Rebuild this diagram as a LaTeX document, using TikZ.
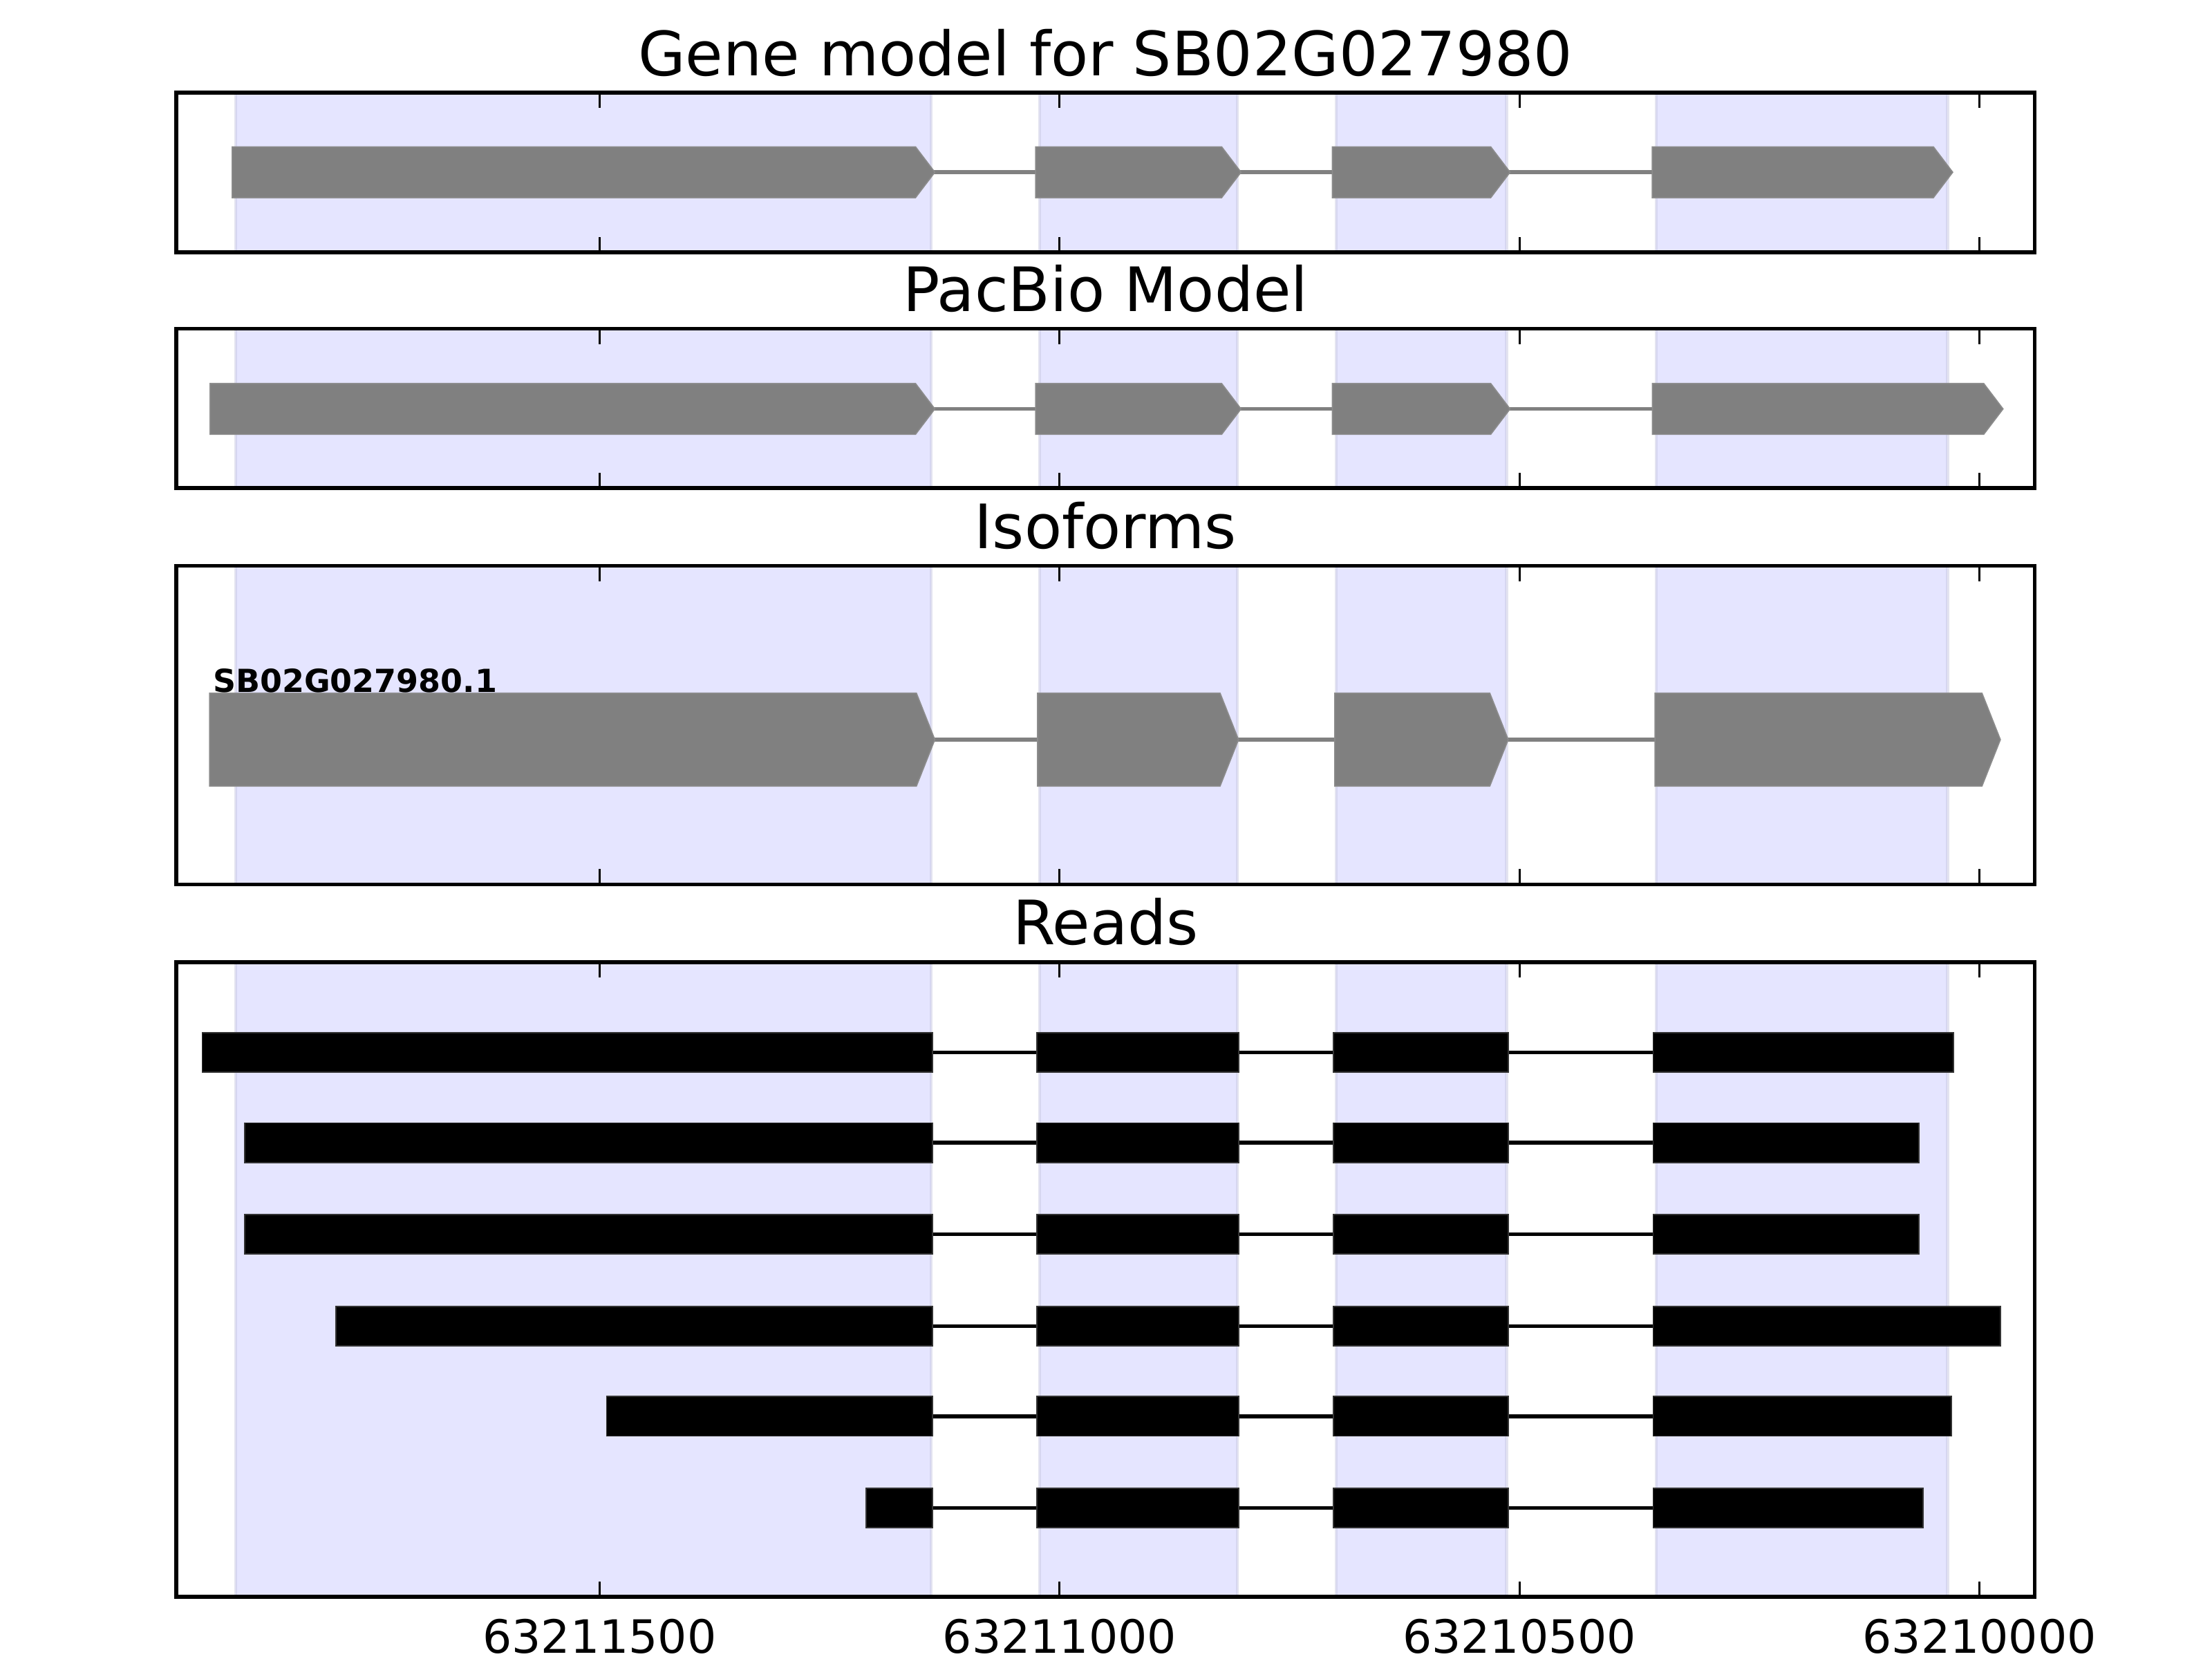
\documentclass[tikz,border=0pt]{standalone}
\usepackage{fontspec}
\setmainfont{DejaVu Sans}

\begin{document}
\begin{tikzpicture}[x=0.3327in, y=1in,
  frame/.style={draw=black, line width=1pt},
  exonspan/.style={fill=blue, fill opacity=0.1, draw={rgb,255:red,200;green,200;blue,225}, draw opacity=0.5, line width=0.8pt},
  genebox/.style={fill=gray, draw=gray!90!white, line width=0.3pt},
  intron/.style={draw=gray, line width=1pt},
  readbar/.style={fill=black, draw=black!80, line width=0.3pt},
  readline/.style={draw=black, line width=1pt},
  tickmark/.style={draw=black, line width=0.6pt},
  paneltitle/.style={font=\fontsize{16}{19}\selectfont, anchor=base, inner sep=0pt},
  ticklabel/.style={font=\fontsize{12}{14}\selectfont, anchor=base, inner sep=0pt},
  isolabel/.style={font=\fontsize{8.3}{10}\selectfont\bfseries, anchor=base west, inner sep=0pt}]
\useasboundingbox (-1.5179,0) rectangle (22.5278,6);

% shaded exon strips in every panel
\foreach \ylo/\yhi in {5.087/5.665, 4.235/4.811, 2.801/3.954, 0.2245/2.520} {
  \foreach \xa/\xb in {1.043/8.604, 9.784/11.934, 13.009/14.859, 16.488/19.652} {
    \path[exonspan] (\xa,\ylo) rectangle (\xb,\yhi);
  }
}

% gene model
\draw[intron] (1.006,5.377) -- (16.442,5.377);
\foreach \xa/\xb in {1.006/8.644, 9.739/11.972, 12.966/14.897, 16.442/19.709} {
  \draw[genebox] (\xa,5.285) -- ({\xb-0.21},5.285) -- (\xb,5.377)
    -- ({\xb-0.21},5.469) -- (\xa,5.469) -- cycle;
}

% pacbio model
\draw[intron] (0.767,4.521) -- (16.445,4.521);
\foreach \xa/\xb in {0.767/8.644, 9.739/11.972, 12.966/14.897, 16.445/20.256} {
  \draw[genebox] (\xa,4.429) -- ({\xb-0.21},4.429) -- (\xb,4.521)
    -- ({\xb-0.21},4.613) -- (\xa,4.613) -- cycle;
}

% isoform
\draw[intron] (0.761,3.325) -- (16.472,3.325);
\foreach \xa/\xb in {0.761/8.644, 9.761/11.945, 12.991/14.877, 16.472/20.227} {
  \draw[genebox] (\xa,3.157) -- ({\xb-0.2},3.157) -- (\xb,3.325)
    -- ({\xb-0.2},3.493) -- (\xa,3.493) -- cycle;
}
\node[isolabel] (isoname) at (0.79,3.497) {SB02G027980.1};

% reads
\foreach \yr/\xs/\xe in {2.194/0.681/19.715, 1.867/1.141/19.340, 1.536/1.141/19.340,
                         1.204/2.132/20.228, 0.878/5.077/19.696, 0.546/7.899/19.387} {
  \draw[readline] (\xs,\yr) -- (\xe,\yr);
  \draw[readbar] (\xs,{\yr-0.0714}) rectangle (8.620,{\yr+0.0714});
  \draw[readbar] (9.755,{\yr-0.0714}) rectangle (11.948,{\yr+0.0714});
  \draw[readbar] (12.975,{\yr-0.0714}) rectangle (14.877,{\yr+0.0714});
  \draw[readbar] (16.451,{\yr-0.0714}) rectangle (\xe,{\yr+0.0714});
}

% frames and inward ticks
\foreach \ylo/\yhi in {5.087/5.665, 4.235/4.811, 2.801/3.954, 0.2245/2.520} {
  \draw[frame] (0.40,\ylo) rectangle (20.60,\yhi);
  \foreach \u in {5,10,15,20} {
    \draw[tickmark] (\u,\ylo) -- ++(0,0.056);
    \draw[tickmark] (\u,\yhi) -- ++(0,-0.056);
  }
}

% titles
\node[paneltitle] (genetitle) at (10.5,5.727) {Gene model for SB02G027980};
\node[paneltitle] (pacbiotitle) at (10.5,4.873) {PacBio Model};
\node[paneltitle] (isotitle) at (10.5,4.016) {Isoforms};
\node[paneltitle] (readstitle) at (10.5,2.584) {Reads};

% axis labels
\foreach \u/\pos in {5/63211500, 10/63211000, 15/63210500, 20/63210000} {
  \node[ticklabel] (pos\u) at (\u,0.0204) {\pos};
}
\end{tikzpicture}
\end{document}
